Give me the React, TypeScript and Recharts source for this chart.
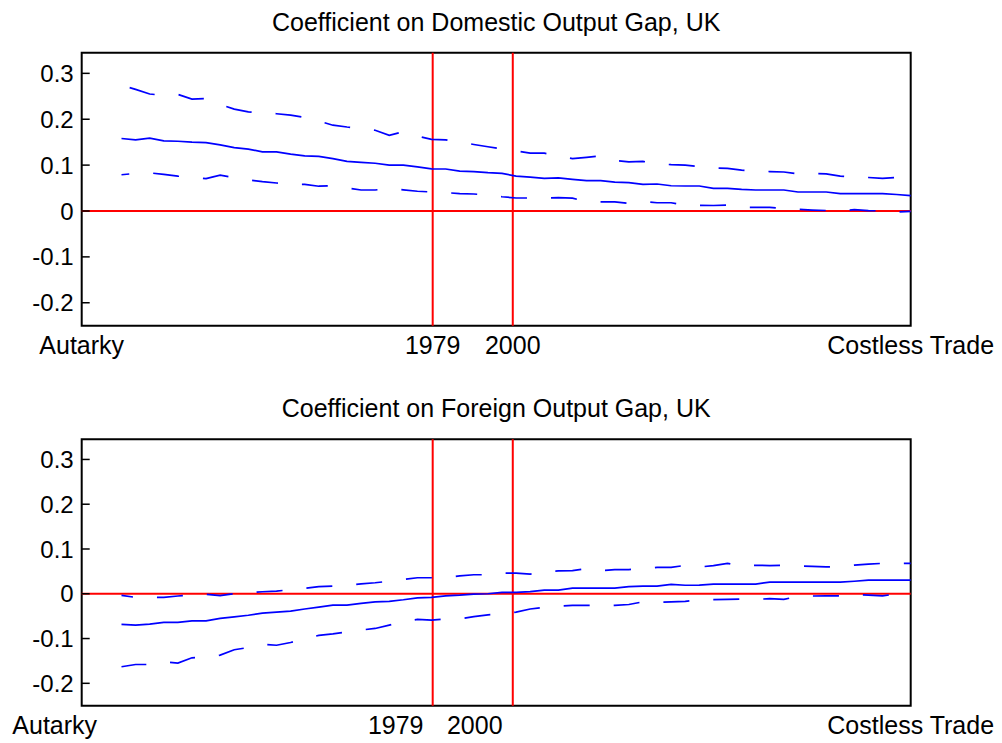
import { LineChart, Line, XAxis, YAxis, ReferenceLine, ReferenceArea } from "recharts";

// grid of trade-cost points (0 = autarky, 1000 = costless trade)
const costGrid = [
  48, 65, 82, 99, 116, 133, 150, 167, 184, 201, 218, 235, 252, 269, 286, 303, 320, 337, 354,
  371, 388, 405, 422, 439, 456, 473, 490, 507, 524, 541, 558, 575, 592, 609, 626, 643, 660,
  677, 694, 711, 728, 745, 762, 779, 796, 813, 830, 847, 864, 881, 898, 915, 932, 949, 966,
  983, 1000,
];

const domCoef = [
  0.158, 0.155, 0.159, 0.153, 0.152, 0.15, 0.149, 0.144, 0.138, 0.135,
  0.129, 0.129, 0.124, 0.12, 0.119, 0.114, 0.108, 0.106, 0.104, 0.1,
  0.1, 0.096, 0.092, 0.0915, 0.087, 0.086, 0.0835, 0.082, 0.076, 0.074,
  0.071, 0.072, 0.069, 0.066, 0.066, 0.063, 0.062, 0.058, 0.0588, 0.055,
  0.0545, 0.0545, 0.0494, 0.0494, 0.047, 0.0458, 0.0458, 0.0458, 0.0414, 0.0414,
  0.0414, 0.0378, 0.0378, 0.0378, 0.0378, 0.036, 0.0334,
];
const domUpper = [
  0.274, 0.265, 0.255, 0.252, 0.254, 0.244, 0.245, 0.232, 0.222, 0.216,
  0.213, 0.212, 0.209, 0.204, 0.196, 0.187, 0.183, 0.18, 0.176, 0.165,
  0.173, 0.163, 0.156, 0.155, 0.15, 0.145, 0.14, 0.135, 0.131, 0.126,
  0.126, 0.12, 0.114, 0.117, 0.12, 0.11, 0.107, 0.108, 0.103, 0.101,
  0.1, 0.097, 0.094, 0.093, 0.089, 0.087, 0.086, 0.085, 0.081, 0.082,
  0.081, 0.076, 0.0748, 0.073, 0.071, 0.073, 0.0697,
];
const domLower = [
  0.079, 0.082, 0.083, 0.08, 0.076, 0.073, 0.0705, 0.078, 0.073, 0.068,
  0.064, 0.061, 0.059, 0.058, 0.054, 0.055, 0.05, 0.0458, 0.0458, 0.049,
  0.046, 0.043, 0.0414, 0.04, 0.038, 0.037, 0.035, 0.031, 0.0283, 0.0283,
  0.0283, 0.029, 0.028, 0.0203, 0.02, 0.02, 0.0168, 0.021, 0.018, 0.018,
  0.0124, 0.0124, 0.012, 0.013, 0.008, 0.008, 0.008, 0.005, 0.0036, 0.002,
  0.001, -0.0007, 0.003, 0.001, 0, -0.002, -0.0007,
];

const forCoef = [
  -0.0685, -0.07, -0.0678, -0.064, -0.064, -0.0604, -0.0604, -0.055, -0.0515, -0.048,
  -0.0432, -0.041, -0.0387, -0.034, -0.0298, -0.0253, -0.0253, -0.0215, -0.0179, -0.017,
  -0.0134, -0.009, -0.008, -0.0045, -0.003, -0.0007, 0, 0.003, 0.003, 0.005,
  0.0083, 0.0083, 0.0127, 0.0127, 0.0127, 0.0127, 0.016, 0.0172, 0.0172, 0.021,
  0.019, 0.0195, 0.0217, 0.0217, 0.0217, 0.0217, 0.026, 0.026, 0.026, 0.026,
  0.026, 0.026, 0.028, 0.0306, 0.0306, 0.0306, 0.0306,
];
const forUpper = [
  -0.0036, -0.008, -0.008, -0.008, -0.005, -0.002, -0.001, -0.004, 0, 0.002,
  0.0045, 0.006, 0.009, 0.012, 0.016, 0.0172, 0.019, 0.022, 0.0246, 0.028,
  0.032, 0.0358, 0.0358, 0.0358, 0.04, 0.0425, 0.0425, 0.046, 0.046, 0.044,
  0.05, 0.051, 0.0515, 0.056, 0.0515, 0.054, 0.054, 0.056, 0.059, 0.059,
  0.0635, 0.0597, 0.063, 0.068, 0.061, 0.0635, 0.063, 0.0635, 0.062, 0.061,
  0.06, 0.061, 0.064, 0.066, 0.068, 0.068, 0.068,
];
const forLower = [
  -0.163, -0.158, -0.158, -0.152, -0.155, -0.143, -0.142, -0.137, -0.125, -0.12,
  -0.113, -0.115, -0.1088, -0.1, -0.093, -0.0895, -0.085, -0.081, -0.0775, -0.07,
  -0.062, -0.0573, -0.059, -0.056, -0.056, -0.051, -0.047, -0.045, -0.041, -0.034,
  -0.0305, -0.028, -0.026, -0.026, -0.026, -0.026, -0.024, -0.018, -0.019, -0.018,
  -0.017, -0.0135, -0.013, -0.0125, -0.012, -0.0125, -0.011, -0.0125, -0.006, -0.005,
  -0.0045, -0.0045, -0.0015, -0.003, -0.0045, -0.0007, 0.001,
];

const xTickValues = [0, 423.4, 520, 1000];
const xTickLabels = ["Autarky", "1979", "2000", "Costless Trade"];
const yTicks = [-0.2, -0.1, 0, 0.1, 0.2, 0.3];
const markers = [423.4, 520];

const FONT = '"Liberation Sans", Arial, Helvetica, sans-serif';
const BLUE = "#0000ff";
const RED = "#ff0000";
const Y_DOMAIN: [number, number] = [-0.25, 0.345];

function LeftTick(props: any) {
  const { x, y, payload } = props;
  return (
    <g>
      <line x1={x + 8} x2={x + 16} y1={y} y2={y} stroke="#000" strokeWidth={1.5} />
      <text x={x} y={y} dy={8.6} textAnchor="end" fontSize={24} fontFamily={FONT} fill="#000">
        {String(payload.value)}
      </text>
    </g>
  );
}

function RightTick(props: any) {
  const { x, y } = props;
  return <line x1={x - 8} x2={x} y1={y} y2={y} stroke="#000" strokeWidth={1.5} />;
}

function makeXTick(offsets: number[]) {
  return function XTick(props: any) {
    const { x, y, index } = props;
    return (
      <text
        x={x + offsets[index]}
        y={y}
        dy={28.5}
        textAnchor="middle"
        fontSize={25}
        fontFamily={FONT}
        fill="#000"
      >
        {xTickLabels[index]}
      </text>
    );
  };
}

interface PanelProps {
  title: string;
  coef: number[];
  upper: number[];
  lower: number[];
  top: number;
  height: number;
  marginTop: number;
  plotHeight: number;
  labelOffsets: number[];
  dashOffsets: [number, number];
}

function Panel({
  title,
  coef,
  upper,
  lower,
  top,
  height,
  marginTop,
  plotHeight,
  labelOffsets,
  dashOffsets,
}: PanelProps) {
  const rows = costGrid.map((x, i) => ({ x, coef: coef[i], upper: upper[i], lower: lower[i] }));
  const XTick = makeXTick(labelOffsets);
  return (
    <div style={{ position: "absolute", left: 0, top, width: 1002, height }}>
      <div
        style={{
          position: "absolute",
          left: 81.7,
          width: 829,
          top: marginTop - 43,
          textAlign: "center",
          fontFamily: FONT,
          fontSize: 25,
          lineHeight: "25px",
          color: "#000",
          whiteSpace: "nowrap",
        }}
      >
        {title}
      </div>
      <LineChart
        width={1002}
        height={height}
        data={rows}
        margin={{ top: marginTop, right: 90.3, bottom: 0, left: 0 }}
      >
        <XAxis
          dataKey="x"
          type="number"
          domain={[0, 1000]}
          ticks={xTickValues}
          interval={0}
          axisLine={false}
          tickLine={false}
          tickSize={0}
          tickMargin={0}
          height={height - marginTop - plotHeight}
          tick={<XTick />}
        />
        <YAxis
          yAxisId="left"
          type="number"
          domain={Y_DOMAIN}
          ticks={yTicks}
          interval={0}
          width={81.7}
          axisLine={false}
          tickLine={false}
          tickSize={0}
          tickMargin={8}
          tick={<LeftTick />}
        />
        <YAxis
          yAxisId="right"
          orientation="right"
          type="number"
          domain={Y_DOMAIN}
          ticks={yTicks}
          interval={0}
          width={1}
          axisLine={false}
          tickLine={false}
          tickSize={0}
          tickMargin={0}
          tick={<RightTick />}
        />
        <ReferenceLine yAxisId="left" y={0} stroke={RED} strokeWidth={2} />
        {markers.map((m) => (
          <ReferenceLine key={m} yAxisId="left" x={m} stroke={RED} strokeWidth={2} />
        ))}
        <Line
          yAxisId="left"
          type="linear"
          dataKey="upper"
          stroke={BLUE}
          strokeWidth={1.7}
          strokeDasharray="26 24"
          strokeDashoffset={dashOffsets[0]}
          dot={false}
          activeDot={false}
          isAnimationActive={false}
        />
        <Line
          yAxisId="left"
          type="linear"
          dataKey="coef"
          stroke={BLUE}
          strokeWidth={1.7}
          dot={false}
          activeDot={false}
          isAnimationActive={false}
        />
        <Line
          yAxisId="left"
          type="linear"
          dataKey="lower"
          stroke={BLUE}
          strokeWidth={1.7}
          strokeDasharray="26 24"
          strokeDashoffset={dashOffsets[1]}
          dot={false}
          activeDot={false}
          isAnimationActive={false}
        />
        <ReferenceArea
          yAxisId="left"
          x1={0}
          x2={1000}
          y1={Y_DOMAIN[0]}
          y2={Y_DOMAIN[1]}
          fill="none"
          stroke="#000"
          strokeWidth={2}
        />
      </LineChart>
    </div>
  );
}

export default function App() {
  return (
    <div style={{ position: "absolute", left: 0, top: 0, width: 1002, height: 743, background: "#fff" }}>
      <Panel
        title="Coefficient on Domestic Output Gap, UK"
        coef={domCoef}
        upper={domUpper}
        lower={domLower}
        top={0}
        height={370}
        marginTop={52.7}
        plotHeight={273}
        labelOffsets={[0, 0, 0, 0]}
        dashOffsets={[41.5, 18.2]}
      />
      <Panel
        title="Coefficient on Foreign Output Gap, UK"
        coef={forCoef}
        upper={forUpper}
        lower={forLower}
        top={380}
        height={363}
        marginTop={59.3}
        plotHeight={266.4}
        labelOffsets={[-27, -37, -38, 0]}
        dashOffsets={[14.4, 1]}
      />
    </div>
  );
}
